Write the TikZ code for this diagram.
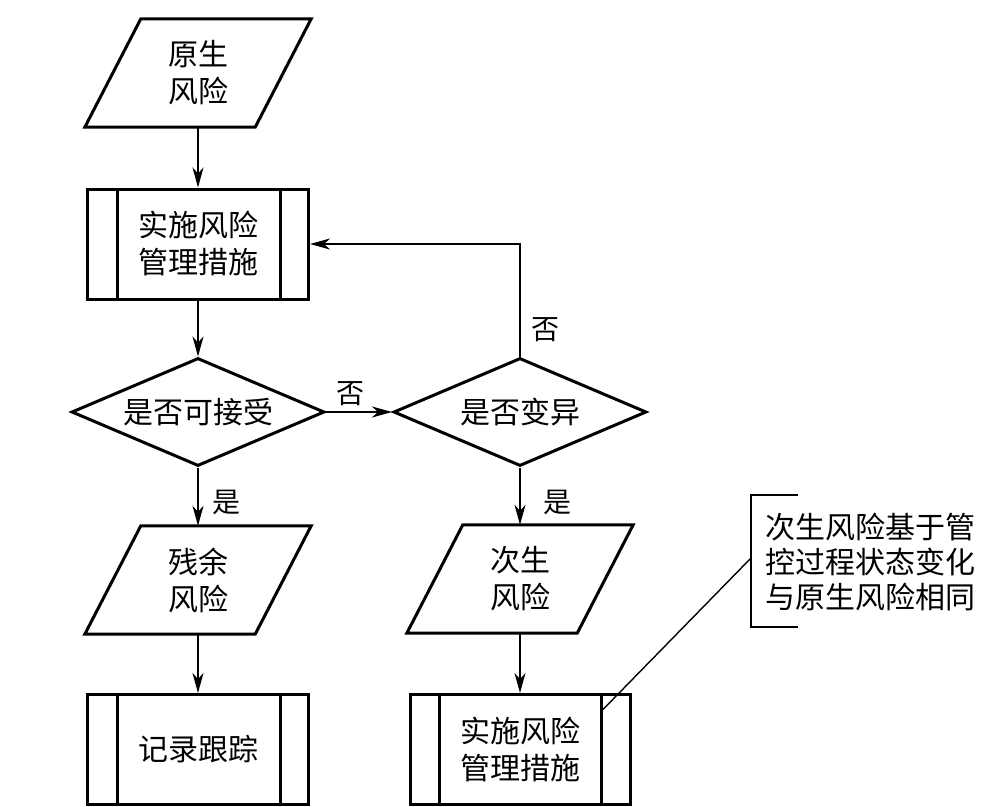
\documentclass[tikz,border=0pt]{standalone}
\usepackage{fontspec}
\newfontfamily\cjk{Noto Sans CJK SC}
\usetikzlibrary{shapes.geometric,arrows.meta}
\begin{document}
\begin{tikzpicture}[x=1pt,y=-1pt,
  txt/.style={font=\cjk\fontsize{30}{37}\selectfont, align=center, inner sep=0pt},
  para/.style={txt, minimum width=170pt, minimum height=108pt},
  proc/.style={txt, draw, line width=3pt, minimum width=221pt, minimum height=110pt},
  dec/.style={txt, draw, diamond, aspect=2.34, line width=3pt, minimum width=253pt, minimum height=108pt},
  shapeline/.style={line width=3pt, line join=miter},
  arr/.style={line width=2pt, -{Stealth[length=20pt,width=11pt,inset=6pt]}},
  lbl/.style={font=\cjk\fontsize{28}{28}\selectfont, inner sep=0pt},
  leader/.style={line width=1.4pt}]
\useasboundingbox (0,0) rectangle (1003,806);
\fill[white] (0,0) rectangle (1003,806);

% nodes
\node[para] (p1) at (198,73) {原生\\风险};
\node[proc] (b1) at (198,244) {实施风险\\管理措施};
\node[dec]  (d1) at (198,412) {是否可接受};
\node[dec]  (d2) at (520,412) {是否变异};
\node[para] (p2) at (198,580) {残余\\风险};
\node[proc] (b2) at (198,749.5) {记录跟踪};
\node[para] (p3) at (520,579) {次生\\风险};
\node[proc, minimum width=220pt] (b3) at (520,749.5) {实施风险\\管理措施};
\node[txt, align=left, font=\cjk\fontsize{30}{35}\selectfont] (note) at (870,562) {次生风险基于管\\控过程状态变化\\与原生风险相同};

% parallelograms
\foreach \p in {p1,p2,p3}{
  \draw[shapeline] ([xshift=28pt]\p.north west) -- ([xshift=28pt]\p.north east)
    -- ([xshift=-28pt]\p.south east) -- ([xshift=-28pt]\p.south west) -- cycle;
}
% process inner bars
\foreach \b in {b1,b2,b3}{
  \draw[line width=3pt] ([xshift=31pt]\b.north west) -- ([xshift=31pt]\b.south west);
  \draw[line width=3pt] ([xshift=-30pt]\b.north east) -- ([xshift=-30pt]\b.south east);
}

% connectors
\draw[arr] (p1.south) -- (b1.north);
\draw[arr] (b1.south) -- (d1.north);
\draw[arr] (d1.east) -- (d2.west);
\draw[arr] (d2.north) |- (b1.east);
\draw[arr] (d1.south) -- (p2.north);
\draw[arr] (p2.south) -- (b2.north);
\draw[arr] (d2.south) -- (p3.north);
\draw[arr] (p3.south) -- (b3.north);

% labels
\node[lbl] (l1) at (350,394) {否};
\node[lbl] (l2) at (545,330) {否};
\node[lbl] (l3) at (226,502) {是};
\node[lbl] (l4) at (557,502) {是};

% annotation bracket
\coordinate (bt) at (798,495);
\coordinate (btl) at (751,495);
\coordinate (bbl) at (751,627);
\coordinate (bb) at (798,627);
\coordinate (lk) at (751,558);
\draw[line width=2pt] (bt) -- (btl) -- (bbl) -- (bb);
\draw[leader] ([xshift=-30pt,yshift=-18pt]b3.north east) -- (lk);
\end{tikzpicture}
\end{document}
